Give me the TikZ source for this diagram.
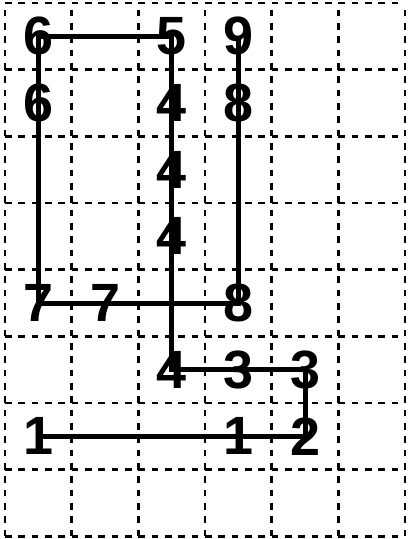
\documentclass[tikz,border=0pt]{standalone}
\usepackage{fontspec}
\setmainfont{Liberation Sans}
\begin{document}
\begin{tikzpicture}[x=1cm,y=1cm,
  gridline/.style={dash pattern=on 0.1cm off 0.1cm, line width=0.04cm},
  link/.style={line width=0.075cm},
  digit/.style={font=\fontsize{23}{24}\selectfont\bfseries, inner sep=0pt}]
\useasboundingbox (-0.075,0.045) rectangle (6.06,-8.04);
\draw[gridline] (0,0) grid (6,-8);
% digits
\node[digit] (a6) at (0.5,-0.5) {6};
\node[digit] (a5) at (2.5,-0.5) {5};
\node[digit] (a9) at (3.5,-0.5) {9};
\node[digit] (b6) at (0.5,-1.5) {6};
\node[digit] (b4) at (2.5,-1.5) {4};
\node[digit] (b8) at (3.5,-1.5) {8};
\node[digit] (c4) at (2.5,-2.5) {4};
\node[digit] (d4) at (2.5,-3.5) {4};
\node[digit] (e7) at (0.5,-4.5) {7};
\node[digit] (f7) at (1.5,-4.5) {7};
\node[digit] (e8) at (3.5,-4.5) {8};
\node[digit] (g4) at (2.5,-5.5) {4};
\node[digit] (g3) at (3.5,-5.5) {3};
\node[digit] (h3) at (4.5,-5.5) {3};
\node[digit] (i1) at (0.5,-6.5) {1};
\node[digit] (j1) at (3.5,-6.5) {1};
\node[digit] (i2) at (4.5,-6.5) {2};
% links
\draw[link] (e7.center) -- (a6.center) -- (a5.center) -- (g4.center) -- (h3.center) -- (i2.center) -- (i1.center);
\draw[link] (a9.center) -- (e8.center) -- (e7.center);
\end{tikzpicture}
\end{document}
